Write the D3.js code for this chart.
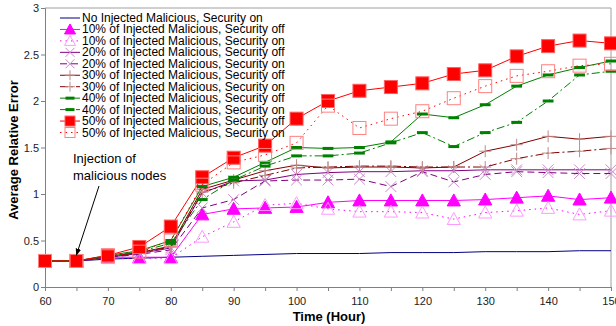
<!DOCTYPE html>
<html>
<head>
<meta charset="utf-8">
<script src="https://cdn.jsdelivr.net/npm/d3@7"></script>
<style>
  body { margin: 0; background: #fff; }
  text { font-family: "Liberation Sans", Arial, sans-serif; }
</style>
</head>
<body>
<div id="chart"></div>
<script>
// hours on the x axis
var hours = [60, 65, 70, 75, 80, 85, 90, 95, 100, 105, 110, 115, 120, 125, 130, 135, 140, 145, 150]

var noInjected = [0.28, 0.28, 0.30, 0.31, 0.32, 0.33, 0.34, 0.35, 0.36, 0.36, 0.36, 0.37, 0.37, 0.37, 0.38, 0.38, 0.38, 0.39, 0.39]
var p10off = [0.28, 0.28, 0.32, 0.32, 0.32, 0.78, 0.84, 0.85, 0.86, 0.91, 0.93, 0.93, 0.93, 0.93, 0.94, 0.96, 0.98, 0.94, 0.96]
var p10on = [0.28, 0.28, 0.31, 0.31, 0.31, 0.54, 0.70, 0.88, 0.90, 0.84, 0.81, 0.81, 0.80, 0.73, 0.80, 0.82, 0.85, 0.78, 0.82]
var p20off = [0.28, 0.28, 0.32, 0.36, 0.42, 1.01, 1.14, 1.15, 1.21, 1.23, 1.24, 1.24, 1.25, 1.25, 1.26, 1.26, 1.26, 1.26, 1.26]
var p20on = [0.28, 0.28, 0.32, 0.35, 0.40, 0.85, 0.94, 1.14, 1.15, 1.15, 1.16, 1.08, 1.24, 1.13, 1.21, 1.24, 1.23, 1.22, 1.22]
var p30off = [0.28, 0.28, 0.33, 0.37, 0.44, 1.05, 1.15, 1.25, 1.31, 1.28, 1.29, 1.29, 1.28, 1.29, 1.46, 1.53, 1.62, 1.59, 1.62]
var p30on = [0.28, 0.28, 0.33, 0.37, 0.43, 1.02, 1.12, 1.20, 1.28, 1.29, 1.30, 1.30, 1.29, 1.29, 1.29, 1.38, 1.44, 1.46, 1.49]
var p40off = [0.28, 0.28, 0.34, 0.39, 0.50, 1.08, 1.18, 1.34, 1.50, 1.49, 1.50, 1.56, 1.86, 1.82, 1.96, 2.16, 2.28, 2.36, 2.43]
var p40on = [0.28, 0.28, 0.33, 0.38, 0.47, 0.94, 1.15, 1.30, 1.41, 1.41, 1.44, 1.55, 1.66, 1.51, 1.66, 1.77, 2.00, 2.28, 2.32]
var p50off = [0.28, 0.28, 0.34, 0.43, 0.65, 1.18, 1.39, 1.52, 1.81, 2.00, 2.11, 2.15, 2.19, 2.29, 2.33, 2.48, 2.59, 2.65, 2.62]
var p50on = [0.28, 0.28, 0.33, 0.38, 0.50, 1.10, 1.34, 1.42, 1.55, 1.95, 1.71, 1.81, 1.89, 2.03, 2.16, 2.27, 2.32, 2.38, 2.40]

var seriesNames = [
  "No Injected Malicious, Security on",
  "10% of Injected Malicious, Security off",
  "10% of Injected Malicious, Security on",
  "20% of Injected Malicious, Security off",
  "20% of Injected Malicious, Security on",
  "30% of Injected Malicious, Security off",
  "30% of Injected Malicious, Security on",
  "40% of Injected Malicious, Security off",
  "40% of Injected Malicious, Security on",
  "50% of Injected Malicious, Security off",
  "50% of Injected Malicious, Security on"
]
var seriesValues = [noInjected, p10off, p10on, p20off, p20on, p30off, p30on, p40off, p40on, p50off, p50on]

var xTicks = [60, 70, 80, 90, 100, 110, 120, 130, 140, 150]
var yTicks = [0, 0.5, 1, 1.5, 2, 2.5, 3]

// line + marker styles per series
var styles = [
  { color: "#000080", dash: null, marker: "none" },
  { color: "#ff00ff", dash: null, marker: "triFill", mcolor: "#ff00ff" },
  { color: "#ff00ff", dash: "1.5,4", marker: "triOpen", mcolor: "#ff99ff" },
  { color: "#800080", dash: null, marker: "cross", mcolor: "#cc88cc" },
  { color: "#800080", dash: "7,4", marker: "cross", mcolor: "#cc88cc" },
  { color: "#800000", dash: null, marker: "plus", mcolor: "#c08a8a" },
  { color: "#800000", dash: "8,3,2,3", marker: "plus", mcolor: "#c08a8a" },
  { color: "#008000", dash: null, marker: "bar", mcolor: "#008000" },
  { color: "#008000", dash: "8,3,2,3", marker: "bar", mcolor: "#008000" },
  { color: "#ff0000", dash: null, marker: "sqFill", mcolor: "#ff0000" },
  { color: "#ff0000", dash: "1.5,4", marker: "sqOpen", mcolor: "#ff8080" }
]

var width = 616
var height = 326
var margin = { left: 45, right: 5, top: 8, bottom: 39 }

var svg = d3.select("#chart")
  .append("svg")
  .attr("width", width)
  .attr("height", height)

var x = d3.scaleLinear().domain([60, 150]).range([margin.left, width - margin.right])
var y = d3.scaleLinear().domain([0, 3]).range([height - margin.bottom, margin.top])

// plot border (top and right)
svg.append("path")
  .attr("d", "M" + x(60) + "," + y(3) + "H" + x(150) + "V" + y(0))
  .attr("fill", "none")
  .attr("stroke", "#a0a0a0")

// axes
var xAxis = svg.append("g")
  .attr("transform", "translate(0," + y(0) + ")")
  .call(d3.axisBottom(x).tickValues(d3.range(60, 151, 5)).tickSize(4).tickFormat(d => xTicks.includes(d) ? d : ""))
var yAxis = svg.append("g")
  .attr("transform", "translate(" + x(60) + ",0)")
  .call(d3.axisLeft(y).tickValues(yTicks).tickSize(4).tickFormat(d => d))

svg.selectAll(".domain").attr("stroke", "#808080")
svg.selectAll(".tick line").attr("stroke", "#808080")
svg.selectAll(".tick text")
  .style("font-size", "11px")
  .style("font-family", "'Liberation Sans', Arial, sans-serif")
  .attr("fill", "#222")
xAxis.selectAll(".tick text").attr("dy", "1em").attr("y", 7)
yAxis.selectAll(".tick text").attr("x", -6)

// axis titles
svg.append("text")
  .attr("x", 329)
  .attr("y", 321)
  .attr("text-anchor", "middle")
  .style("font-size", "13px")
  .style("font-weight", "bold")
  .text("Time (Hour)")

svg.append("text")
  .attr("transform", "translate(18,150) rotate(-90)")
  .attr("text-anchor", "middle")
  .style("font-size", "13px")
  .style("font-weight", "bold")
  .text("Average Relative Error")

// marker drawing
function drawMarker(g, type, color, size) {
  var s = size
  if (type == "triFill" || type == "triOpen") {
    g.append("path")
      .attr("d", "M0," + (-s * 0.55) + "L" + (s * 0.55) + "," + (s * 0.45) + "L" + (-s * 0.55) + "," + (s * 0.45) + "Z")
      .attr("fill", type == "triFill" ? color : "none")
      .attr("stroke", color)
      .attr("stroke-width", 1)
  } else if (type == "sqFill" || type == "sqOpen") {
    g.append("rect")
      .attr("x", -s / 2).attr("y", -s / 2)
      .attr("width", s).attr("height", s)
      .attr("fill", type == "sqFill" ? color : "none")
      .attr("stroke", type == "sqFill" ? "#ff6060" : color)
      .attr("stroke-width", 1)
  } else if (type == "cross") {
    var h = s * 0.45
    g.append("path")
      .attr("d", "M" + (-h) + "," + (-h) + "L" + h + "," + h + "M" + (-h) + "," + h + "L" + h + "," + (-h))
      .attr("stroke", color)
      .attr("stroke-width", 1)
  } else if (type == "plus") {
    var h = s * 0.5
    g.append("path")
      .attr("d", "M" + (-h) + ",0H" + h + "M0," + (-h) + "V" + h)
      .attr("stroke", color)
      .attr("stroke-width", 1)
  } else if (type == "bar") {
    g.append("rect")
      .attr("x", -s * 0.45).attr("y", -1.5)
      .attr("width", s * 0.9).attr("height", 3)
      .attr("fill", color)
  }
}

var markerSize = { triFill: 12, triOpen: 12, sqFill: 13, sqOpen: 13, cross: 12, plus: 12, bar: 12 }

var line = d3.line()
  .x((d, i) => x(hours[i]))
  .y(d => y(d))

// one group per series: line then markers
var plot = svg.append("g")
seriesValues.forEach(function(vals, k) {
  var st = styles[k]
  var g = plot.append("g")
  g.append("path")
    .datum(vals)
    .attr("d", line)
    .attr("fill", "none")
    .attr("stroke", st.color)
    .attr("stroke-width", 1)
    .attr("stroke-dasharray", st.dash)
  if (st.marker != "none") {
    g.selectAll("g.m")
      .data(vals)
      .enter().append("g")
      .attr("class", "m")
      .attr("transform", (d, i) => "translate(" + x(hours[i]) + "," + y(d) + ")")
      .each(function() { drawMarker(d3.select(this), st.marker, st.mcolor, markerSize[st.marker]) })
  }
})

// legend
var legend = svg.append("g").attr("transform", "translate(60,18)")
seriesNames.forEach(function(name, k) {
  var st = styles[k]
  var row = legend.append("g").attr("transform", "translate(0," + (k * 11.45) + ")")
  row.append("line")
    .attr("x1", 0).attr("x2", 20)
    .attr("stroke", st.color)
    .attr("stroke-width", 1)
    .attr("stroke-dasharray", st.dash)
  if (st.marker != "none") {
    var mg = row.append("g").attr("transform", "translate(10,0)")
    drawMarker(mg, st.marker, st.mcolor, 10)
  }
  row.append("text")
    .attr("x", 22)
    .attr("y", 4)
    .style("font-size", "12px")
    .attr("fill", "#000")
    .text(name)
})

// annotation
svg.append("text")
  .attr("x", 73)
  .attr("y", 163)
  .style("font-size", "13px")
  .text("Injection of")
svg.append("text")
  .attr("x", 73)
  .attr("y", 180)
  .style("font-size", "13px")
  .text("malicious nodes")

svg.append("defs").append("marker")
  .attr("id", "arrow")
  .attr("viewBox", "0 0 10 10")
  .attr("refX", 9).attr("refY", 5)
  .attr("markerWidth", 7).attr("markerHeight", 7)
  .attr("orient", "auto")
  .append("path")
  .attr("d", "M0,1L10,5L0,9Z")
  .attr("fill", "#000")

svg.append("line")
  .attr("x1", 99).attr("y1", 186)
  .attr("x2", x(65)).attr("y2", y(p50off[1]) - 6)
  .attr("stroke", "#000")
  .attr("stroke-width", 1)
  .attr("marker-end", "url(#arrow)")
</script>
</body>
</html>
